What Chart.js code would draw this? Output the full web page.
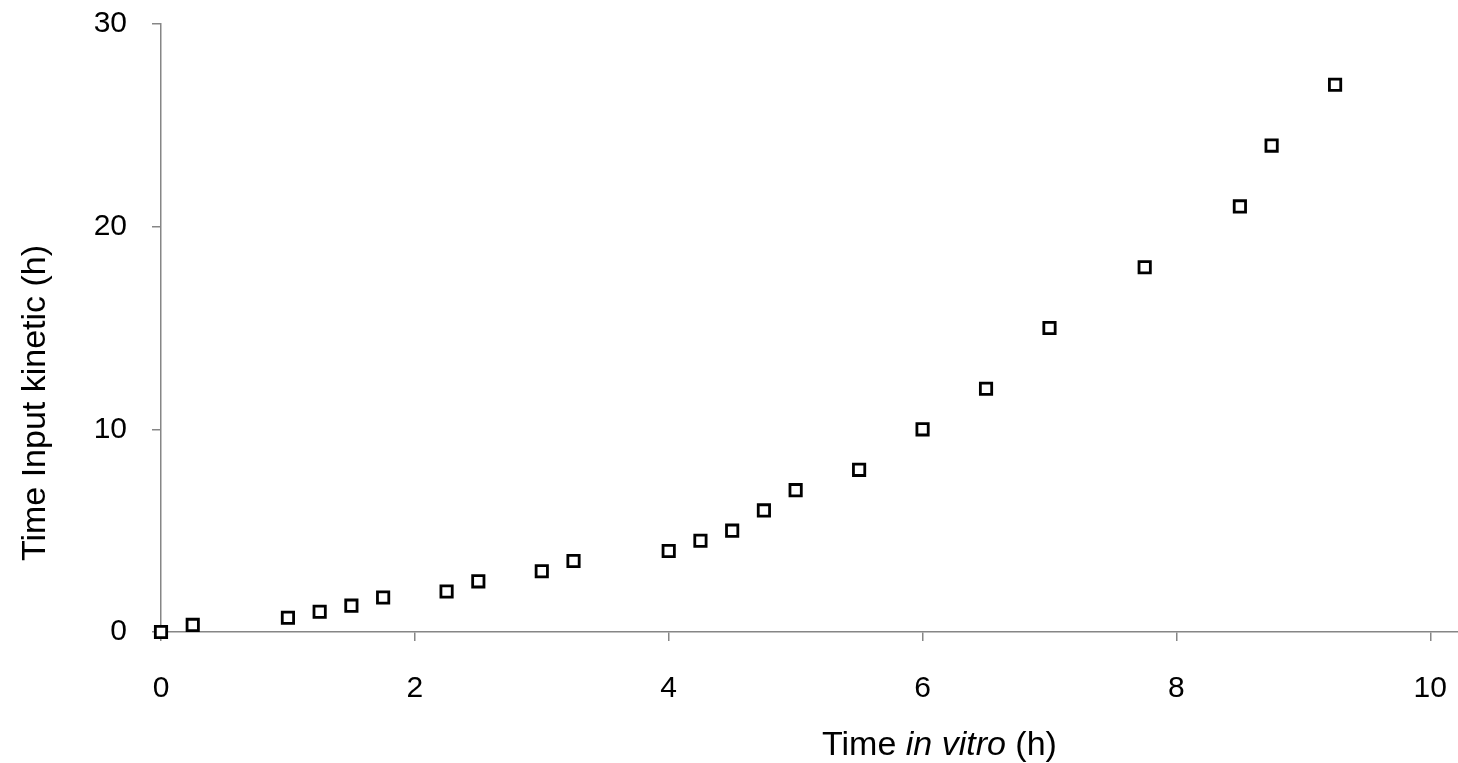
<!DOCTYPE html>
<html>
<head>
<meta charset="utf-8">
<script src="https://cdn.jsdelivr.net/npm/chart.js@4/dist/chart.umd.min.js"></script>
<style>
  html, body { margin: 0; padding: 0; background: #fff; overflow: hidden; }
  #wrap { width: 1469px; height: 763px; }
</style>
</head>
<body>
<div id="wrap"><canvas id="chart"></canvas></div>
<script>
// time in vitro (h)
const timeInVitro = [0, 0.25, 1, 1.25, 1.5, 1.75, 2.25, 2.5, 3, 3.25, 4, 4.25, 4.5, 4.75, 5, 5.5, 6, 6.5, 7, 7.75, 8.5, 8.75, 9.25];
// time input kinetic (h)
const timeInput = [0, 0.35, 0.7, 1, 1.3, 1.7, 2, 2.5, 3, 3.5, 4, 4.5, 5, 6, 7, 8, 10, 12, 15, 18, 21, 24, 27];
const xTicks = [0, 2, 4, 6, 8, 10];
const yTicks = [0, 10, 20, 30];

const axisGrey = '#868686';
const fontFamily = '"Liberation Sans", Arial, sans-serif';

// axis titles drawn by hand, the x one has an italic part
const titlePlugin = {
    id: 'axisTitles',
    afterDraw(chart) {
        const ctx = chart.ctx;
        ctx.save();
        ctx.fillStyle = '#000';
        ctx.textBaseline = 'alphabetic';

        // x title
        const parts = [
            { text: 'Time ', style: 'normal' },
            { text: 'in vitro', style: 'italic' },
            { text: ' (h)', style: 'normal' }
        ];
        let x = 822;
        parts.forEach(p => {
            ctx.font = p.style + ' 34px ' + fontFamily;
            ctx.textAlign = 'left';
            ctx.fillText(p.text, x, 755);
            x += ctx.measureText(p.text).width;
        });

        // y title
        ctx.translate(45, 403);
        ctx.rotate(-Math.PI / 2);
        ctx.font = '34px ' + fontFamily;
        ctx.textAlign = 'center';
        ctx.fillText('Time Input kinetic (h)', 0, 0);
        ctx.restore();
    }
};

new Chart(document.getElementById('chart'), {
    type: 'scatter',
    data: {
        datasets: [{
            data: timeInVitro.map((t, i) => ({ x: t, y: timeInput[i] })),
            pointStyle: 'rect',
            pointRadius: 8,
            pointHoverRadius: 8,
            borderColor: '#000',
            backgroundColor: '#fff',
            pointBorderWidth: 2.8,
            clip: false
        }]
    },
    options: {
        responsive: true,
        maintainAspectRatio: false,
        animation: false,
        events: [],
        layout: { padding: { top: 24, right: 0, left: 0, bottom: 0 } },
        plugins: {
            legend: { display: false },
            tooltip: { enabled: false }
        },
        scales: {
            x: {
                type: 'linear',
                min: 0,
                max: 10.22,
                afterBuildTicks: (scale) => { scale.ticks = xTicks.map(v => ({ value: v })); },
                afterFit: (scale) => {
                    scale.height = 131;
                    scale.paddingLeft = 0;
                    scale.paddingRight = 0;
                },
                border: { color: axisGrey, width: 1.5 },
                grid: { drawOnChartArea: false, drawTicks: true, tickLength: 9, color: axisGrey, lineWidth: 1.5 },
                ticks: {
                    padding: 30,
                    maxRotation: 0,
                    color: '#000',
                    font: { family: fontFamily, size: 30 }
                }
            },
            y: {
                type: 'linear',
                min: 0,
                max: 30,
                afterBuildTicks: (scale) => { scale.ticks = yTicks.map(v => ({ value: v })); },
                afterFit: (scale) => {
                    scale.width = 161;
                    scale.paddingTop = 0;
                    scale.paddingBottom = 0;
                },
                border: { color: axisGrey, width: 1.5 },
                grid: { drawOnChartArea: false, drawTicks: true, tickLength: 9, color: axisGrey, lineWidth: 1.5 },
                ticks: {
                    padding: 25,
                    color: '#000',
                    font: { family: fontFamily, size: 30 }
                }
            }
        }
    },
    plugins: [titlePlugin]
});
</script>
</body>
</html>
